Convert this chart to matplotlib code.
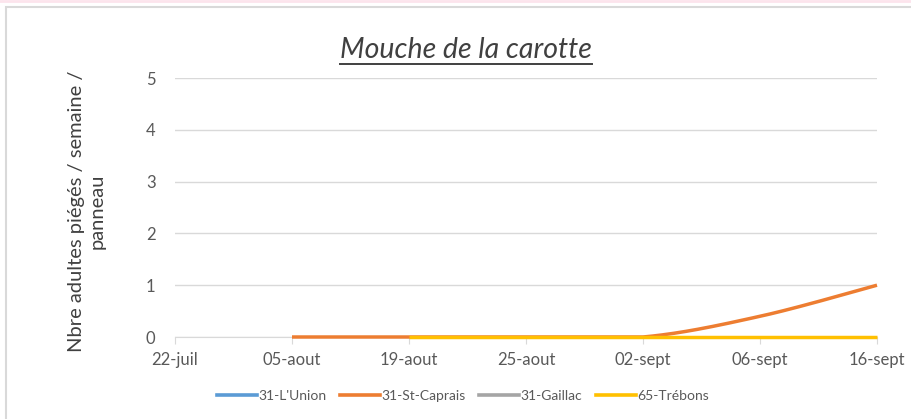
import numpy as np
import matplotlib
matplotlib.use("Agg")
import matplotlib.pyplot as plt
from matplotlib.lines import Line2D
from matplotlib.patches import Rectangle

plt.rcParams['font.family'] = ['Lato', 'DejaVu Sans']

categories = ["22-juil", "05-aout", "19-aout", "25-aout", "02-sept", "06-sept", "16-sept"]
series_names = ["31-L'Union", "31-St-Caprais", "31-Gaillac", "65-Trébons"]
union = [None, None, None, None, None, None, None]
st_caprais = [None, 0, 0, 0, 0, 0.4, 1]
gaillac = [None, None, None, None, None, None, None]
trebons = [None, None, 0, 0, 0, 0, 0]
colors = ["#5B9BD5", "#ED7D31", "#A5A5A5", "#FFC000"]
yticks = [0, 1, 2, 3, 4, 5]


def smooth(vals):
    """Excel-like Catmull-Rom Bezier smoothing through the data points (no overshoot on flat segments)."""
    pts = [(i, v) for i, v in enumerate(vals) if v is not None]
    if len(pts) < 2:
        return np.array([]), np.array([])
    P = np.array(pts, dtype=float)
    n = len(P)
    xs, ys = [], []
    t = np.linspace(0, 1, 50)[:, None]
    for k in range(n - 1):
        p0 = P[k - 1] if k > 0 else P[k]
        p1 = P[k]
        p2 = P[k + 1]
        p3 = P[k + 2] if k + 2 < n else P[k + 1]
        c1 = p1 + (p2 - p0) / 6.0
        c2 = p2 - (p3 - p1) / 6.0
        b = (1 - t) ** 3 * p1 + 3 * (1 - t) ** 2 * t * c1 + 3 * (1 - t) * t ** 2 * c2 + t ** 3 * p2
        lo, hi = min(p1[1], p2[1]), max(p1[1], p2[1])
        xs.append(b[:, 0]); ys.append(np.clip(b[:, 1], lo, hi))
    return np.concatenate(xs), np.concatenate(ys)


fig = plt.figure(figsize=(9.11, 4.19), dpi=100)
ax = fig.add_axes([175 / 911, 1 - 337 / 419, (877 - 175) / 911, (337 - 78) / 419])

handles = []
for name, vals, col in zip(series_names, [union, st_caprais, gaillac, trebons], colors):
    x, y = smooth(vals)
    ax.plot(x, y, color=col, lw=2.5, solid_capstyle='butt', clip_on=False, zorder=3)
    handles.append(Line2D([0], [0], color=col, lw=2.6))

ax.set_xlim(0, len(categories) - 1)
ax.set_ylim(0, 5)
ax.set_xticks(range(len(categories)))
ax.set_xticklabels(categories)
ax.set_yticks(yticks)
ax.set_yticklabels([str(v) for v in yticks])
ax.grid(axis='y', color='#D9D9D9', lw=1)
ax.set_axisbelow(True)
for s in ['left', 'right', 'top']:
    ax.spines[s].set_visible(False)
ax.spines['bottom'].set_color('#D9D9D9')
ax.tick_params(axis='x', colors='#595959', labelsize=12, length=5, direction='out', pad=6, color='#D9D9D9')
ax.tick_params(axis='y', colors='#595959', labelsize=12, length=0, pad=14)

fig.text(87 / 911, 1 - 211 / 419, "Nbre adultes piégés / semaine /\npanneau", rotation=90,
         ha='center', va='center', fontsize=14.5, color='#404040', linespacing=1.25)

title = fig.text(466 / 911, 1 - 50 / 419, "Mouche de la carotte", ha='center', va='center',
                 fontsize=20.5, style='italic', color='#404040')
fig.canvas.draw()
bb = title.get_window_extent(fig.canvas.get_renderer()).transformed(fig.transFigure.inverted())
fig.add_artist(Line2D([bb.x0, bb.x1], [bb.y0 - 0.002, bb.y0 - 0.002], color='#404040', lw=1.4,
                      transform=fig.transFigure))

fig.legend(handles, series_names, loc='center', bbox_to_anchor=(463 / 911, 1 - 396 / 419), ncol=4,
           frameon=False, fontsize=10, handlelength=2.9, columnspacing=0.95, handletextpad=0.1,
           labelcolor='#595959')

fig.add_artist(Rectangle((6 / 911, -0.05), 1.0, 1 - 7 / 419 + 0.05, transform=fig.transFigure,
                         fill=False, edgecolor='#D9D9D9', lw=1.5))
fig.add_artist(Line2D([0, 1], [1 - 1 / 419, 1 - 1 / 419], color='#FCE4EC', lw=2, transform=fig.transFigure))

fig.savefig("out.png", dpi=100)
